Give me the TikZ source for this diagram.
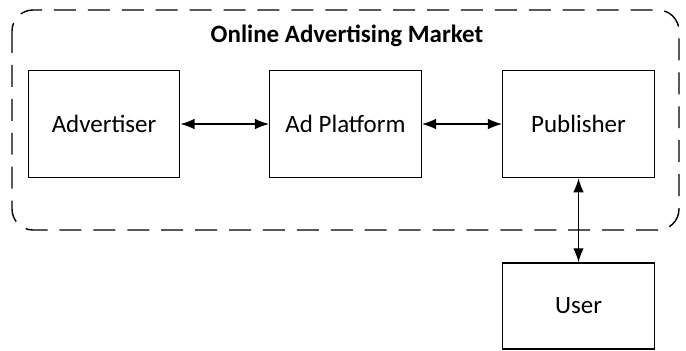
\documentclass[tikz,border=0pt]{standalone}
\usepackage{fontspec}
\setmainfont{Carlito}
\usepackage{tikz}
\usetikzlibrary{arrows.meta}
\usetikzlibrary{positioning}

\tikzset{
  mktbox/.style={draw, line width=0.8pt, minimum width=3.03cm, minimum height=2.14cm, inner sep=0pt, font=\fontsize{14.2}{16}\selectfont},
  biarrow/.style={{Latex[length=8pt,width=6pt]}-{Latex[length=8pt,width=6pt]}, line width=0.7pt}
}

\begin{document}
\begin{tikzpicture}
			\useasboundingbox (0,0) rectangle (13.72,-7);
			\draw [line width=0.8pt, dash pattern=on 12.5pt off 6.8pt, rounded corners=0.42cm] (0.24,-0.2) rectangle (13.58,-4.6);
			\node (title) at (6.94,-0.72) {\fontsize{14.2}{16}\selectfont\bfseries Online Advertising Market};
			\node [mktbox] (adv) at (2.08,-2.48) {Advertiser};
			\node [mktbox] (plat) at (6.91,-2.48) {Ad Platform};
			\node [mktbox] (pub) at (11.57,-2.48) {Publisher};
			\node [mktbox, minimum height=1.72cm] (user) at (11.57,-6.12) {User};
			\draw [biarrow] (adv) -- (plat);
			\draw [biarrow] (plat) -- (pub);
			\draw [biarrow] (pub) -- (user);
		\end{tikzpicture}
\end{document}
